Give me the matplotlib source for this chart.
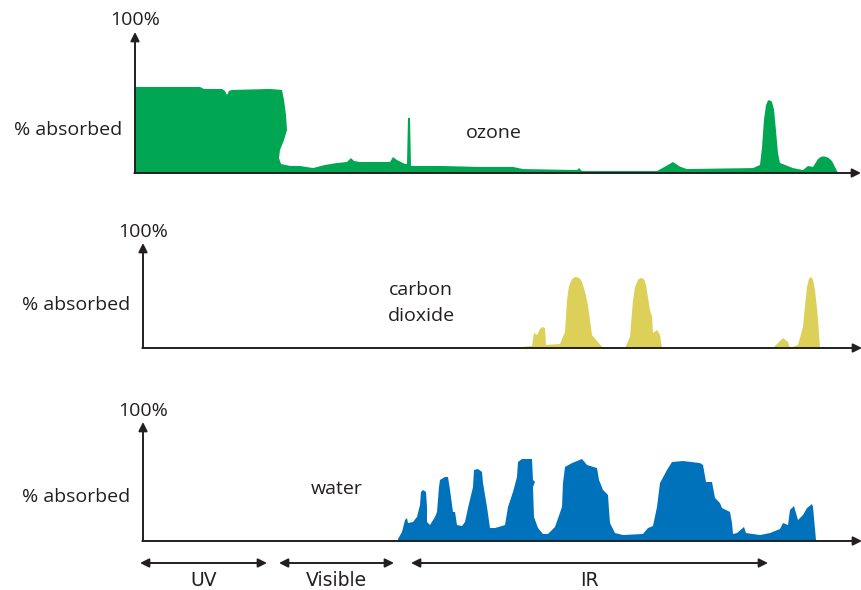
import matplotlib
matplotlib.use("Agg")
import matplotlib.pyplot as plt

plt.rcParams["font.family"] = ["Open Sans", "DejaVu Sans"]

W, H = 862, 590
INK = "#231f20"

# x positions along the spectrum (same horizontal units for all panels)
# y values: % absorbed, 100 = tip of the vertical arrow
ozone_x = [135, 200, 204, 222, 225, 227, 229, 232, 270, 282, 284, 286, 287, 284, 280, 279,
           281, 290, 300, 313, 325, 337, 347, 351, 354, 360, 375, 390, 393, 397, 405, 407,
           408, 410, 411, 440, 480, 513, 523, 577, 579, 582, 657, 665, 673, 680, 687, 753,
           760, 762, 764, 766, 768, 770, 772, 774, 776, 778, 780, 793, 803, 808, 813, 818,
           821, 824, 828, 832, 835, 838]
ozone_y = [61.0, 61.0, 59.6, 59.6, 58.2, 55.3, 58.2, 58.9, 59.6, 58.9, 51.8, 41.1, 30.5, 23.4, 16.3, 10.6,
           6.4, 5.0, 5.0, 3.5, 5.7, 7.1, 7.8, 10.6, 8.5, 7.8, 7.8, 7.8, 11.3, 9.2, 6.4, 6.4,
           39.0, 39.0, 5.0, 5.0, 4.3, 4.3, 2.8, 2.1, 3.5, 1.4, 1.4, 4.5, 7.8, 4.5, 2.8, 3.5,
           5.7, 18.0, 38.0, 48.0, 51.5, 51.5, 50.5, 45.0, 30.0, 14.0, 7.1, 3.5, 2.1, 5.0, 4.3, 9.9,
           11.5, 11.8, 11.0, 8.5, 4.3, 0.0]

co2_x = [512, 532, 534, 537, 540, 542, 545, 546, 560, 565, 567, 569, 572, 575, 578, 581,
         583, 586, 588, 592, 603, 625, 630, 633, 635, 638, 641, 644, 646, 648, 650, 652,
         653, 657, 660, 662, 773, 783, 788, 790, 798, 803, 805, 807, 809, 811, 813, 815,
         817, 818, 820]
co2_y = [0.0, 1.9, 14.3, 12.4, 18.0, 20.0, 19.0, 2.9, 3.8, 15.2, 45.7, 59.0, 65.5, 67.6, 67.3, 65.0,
         60.0, 50.0, 40.0, 12.4, 0.0, 0.0, 10.5, 45.7, 58.0, 65.0, 66.7, 65.5, 60.0, 48.0, 36.0, 30.0,
         14.3, 17.1, 12.4, 0.0, 0.0, 9.5, 5.7, 0.0, 2.9, 20.0, 40.0, 58.0, 66.0, 67.6, 65.0, 55.0,
         38.0, 26.7, 0.0]

water_x = [398, 402, 405, 407, 408, 413, 417, 420, 421, 423, 426, 427, 427, 430, 435, 437,
           439, 440, 445, 448, 450, 453, 455, 457, 462, 465, 468, 473, 474, 478, 482, 483,
           487, 490, 495, 505, 508, 513, 517, 518, 522, 532, 533, 535, 533, 534, 538, 543,
           548, 555, 562, 563, 565, 572, 582, 587, 597, 599, 603, 608, 609, 610, 615, 623,
           643, 648, 653, 657, 660, 667, 672, 683, 700, 703, 706, 712, 715, 720, 722, 730,
           732, 733, 737, 744, 746, 760, 770, 780, 783, 788, 790, 794, 798, 803, 807, 812,
           813, 816]
water_y = [1.7, 7.6, 17.6, 19.3, 15.1, 16.0, 20.2, 30.3, 41.2, 42.9, 41.2, 28.6, 16.0, 13.4, 20.2, 24.4,
           45.4, 51.3, 53.8, 53.8, 42.9, 24.4, 24.4, 13.4, 12.6, 16.0, 27.7, 45.4, 59.7, 60.5, 58.0, 48.7,
           28.6, 10.9, 10.9, 13.4, 28.6, 41.2, 53.8, 66.4, 68.9, 68.9, 51.3, 49.6, 45.4, 20.2, 10.9, 5.9,
           5.9, 11.8, 28.6, 48.7, 62.2, 65.5, 68.9, 63.9, 61.3, 51.3, 42.9, 38.7, 26.1, 15.1, 6.7, 5.0,
           5.9, 10.9, 12.6, 28.6, 48.7, 59.7, 66.4, 67.2, 65.5, 63.9, 49.6, 49.6, 36.1, 31.9, 27.7, 24.4,
           15.1, 5.9, 6.7, 11.8, 6.7, 5.0, 6.7, 10.1, 15.1, 13.4, 26.1, 29.4, 17.6, 21.8, 27.7, 31.1,
           28.6, 0.8]

regions = ["UV", "Visible", "IR"]
region_start = [140, 279, 411]
region_end = [267, 394, 768]

# panel geometry in image pixels: y-axis x, arrow tip y, baseline y, x-axis end
panels = [
    dict(x=ozone_x, y=ozone_y, color="#00a651", x0=135, tip=32, base=173, xend=861,
         label="ozone", lx=494, ly=133, hy=20, ay=130),
    dict(x=co2_x, y=co2_y, color="#ddd058", x0=143, tip=243, base=348, xend=862,
         label="carbon\ndioxide", lx=421, ly=303, hy=232, ay=305),
    dict(x=water_x, y=water_y, color="#0072bc", x0=143, tip=422, base=541, xend=862,
         label="water", lx=337, ly=489, hy=411, ay=497),
]

fig = plt.figure(figsize=(W / 100, H / 100), dpi=100)

for p in panels:
    h = p["base"] - p["tip"]
    ax = fig.add_axes([0, 1 - p["base"] / H, 1, h / H])
    ax.set_xlim(0, W)
    ax.set_ylim(0, 100)
    ax.axis("off")
    ax.fill(p["x"] + [p["x"][-1], p["x"][0]], p["y"] + [0, 0], color=p["color"], lw=0)
    arrow = dict(arrowstyle="-|>", color=INK, lw=1.4, mutation_scale=13, shrinkA=0, shrinkB=0)
    ax.annotate("", xy=(p["x0"], 100), xytext=(p["x0"], 0), arrowprops=arrow,
                annotation_clip=False)
    ax.annotate("", xy=(p["xend"], 0), xytext=(p["x0"] - 0.7, 0), arrowprops=arrow,
                annotation_clip=False)
    ax.text(p["x0"], 100 + (p["tip"] - p["hy"]) / h * 100, "100%", ha="center", va="center",
            fontsize=14, color=INK, clip_on=False)
    ax.text(p["x0"] - 13, (p["base"] - p["ay"]) / h * 100, "% absorbed", ha="right",
            va="center", fontsize=14, color=INK, clip_on=False)
    ax.text(p["lx"], (p["base"] - p["ly"]) / h * 100, p["label"], ha="center", va="center",
            fontsize=14, color=INK, linespacing=1.55, clip_on=False)

# wavelength regions under the bottom panel
axb = fig.add_axes([0, 0, 1, 40 / H])
axb.set_xlim(0, W)
axb.set_ylim(0, 40)
axb.axis("off")
for name, a, b in zip(regions, region_start, region_end):
    axb.annotate("", xy=(a, 27), xytext=(b, 27),
                 arrowprops=dict(arrowstyle="<|-|>", color=INK, lw=1.4, mutation_scale=13,
                                 shrinkA=0, shrinkB=0))
    axb.text((a + b) / 2, 9, name, ha="center", va="center", fontsize=13.5, color=INK,
             family=["Liberation Sans Narrow", "DejaVu Sans"])

fig.savefig("out.png", dpi=100)
